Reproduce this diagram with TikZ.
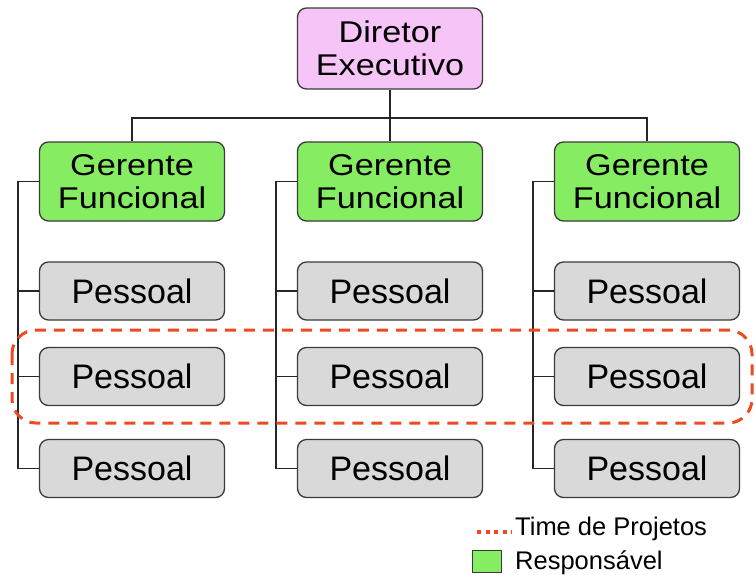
\documentclass[tikz,border=0pt]{standalone}
\usepackage{fontspec}
\setmainfont{Liberation Sans}
\newfontfamily\widefont[FakeStretch=1.14]{Liberation Sans}
\usetikzlibrary{calc}
\definecolor{dirpink}{HTML}{F7C4F7}
\definecolor{mgrgreen}{HTML}{86EC62}
\definecolor{staffgray}{HTML}{D9D9D9}
\definecolor{boxline}{HTML}{3A3A3A}
\definecolor{teamred}{HTML}{EE4A22}
\begin{document}
\begin{tikzpicture}[x=1pt,y=-1pt,
  orgbox/.style={draw=boxline,line width=1.3pt,rounded corners=9pt,
    minimum width=185pt,align=center,inner sep=0pt},
  twoline/.style={orgbox,font=\widefont\fontsize{30}{33}\selectfont},
  director/.style={twoline,fill=dirpink,minimum height=81pt},
  manager/.style={twoline,fill=mgrgreen,minimum height=79pt},
  staff/.style={orgbox,fill=staffgray,minimum height=58pt,
    font=\fontsize{34}{36}\selectfont},
  wire/.style={draw=black!85,line width=1.3pt},
  team/.style={draw=teamred,line width=3pt,dash pattern=on 11pt off 8pt,rounded corners=24pt},
  legendtext/.style={anchor=base west,inner sep=0pt,font=\fontsize{25.5}{30}\selectfont}]
  \useasboundingbox (0,0) rectangle (755,574);

  % top of the hierarchy
  \node[director] (dir) at (390,48.5) {Diretor\\Executivo};
  \coordinate (bus) at (390,118);

  % three functional departments
  \foreach \c/\x in {1/132,2/390,3/647}{
    \node[manager] (g\c) at (\x,181.5) {Gerente\\Funcional};
    \node[staff] (p\c1) at (\x,291) {Pessoal};
    \node[staff] (p\c2) at (\x,376.5) {Pessoal};
    \node[staff] (p\c3) at (\x,468.5) {Pessoal};
    \coordinate (t\c) at ($(g\c.west)+(-21,0)$);
  }

  % reporting lines
  \draw[wire] (dir.south) -- (bus);
  \draw[wire] (g1.north) |- (bus) -| (g3.north);
  \draw[wire] (bus) -- (g2.north);
  \foreach \c in {1,2,3}{
    \draw[wire] (g\c.west) -- (t\c) |- (p\c3.west);
    \draw[wire] (p\c1.west) -- (p\c1.west -| t\c);
    \draw[wire] (p\c2.west) -- (p\c2.west -| t\c);
  }

  % project team boundary
  \draw[team] (12,330) rectangle (752,423);

  % legend
  \coordinate (dotsA) at (477,532);
  \coordinate (dotsB) at (512,532);
  \draw[draw=teamred,line width=4pt,dash pattern=on 4pt off 4.5pt] (dotsA) -- (dotsB);
  \node[legendtext] (lteam) at (515,535) {Time de Projetos};
  \node[draw=boxline,line width=1pt,fill=mgrgreen,minimum width=29pt,minimum height=22pt,inner sep=0pt] (lkey) at (487,561) {};
  \node[legendtext] (lresp) at (515,569) {Responsável};
\end{tikzpicture}
\end{document}
